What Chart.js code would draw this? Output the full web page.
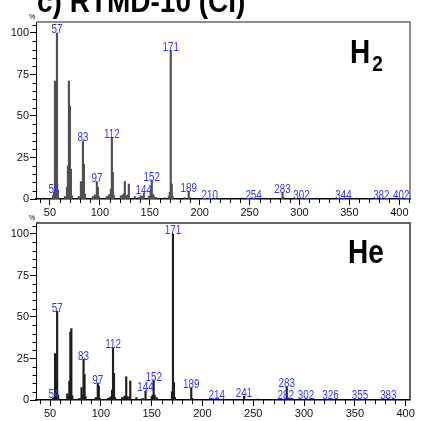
<!DOCTYPE html>
<html><head><meta charset="utf-8">
<script src="https://cdn.jsdelivr.net/npm/chart.js@4/dist/chart.umd.min.js"></script>
<style>
html,body{margin:0;padding:0;background:#fff;width:422px;height:421px;overflow:hidden}
canvas{position:absolute;left:0}
#c1{top:0}
#c2{top:210px}
</style></head><body>
<canvas id="c1" width="422" height="218"></canvas>
<canvas id="c2" width="422" height="211"></canvas>
<script>
// ---- data (m/z, relative intensity %) ----
const titleText = "c) RTMD-10 (CI)";
const h2Mz  = [53,54,55,56,57,58,65,67,68,69,70,71,72,79,81,82,83,84,85,93,95,96,97,98,99,107,109,110,111,112,113,114,121,123,124,125,126,128,129,135,139,141,143,144,149,150,151,152,153,154,156,165,169,170,171,172,173,185,189,190,210,254,283,284,302,344,382,402];
const h2Int = [2,4,71,27,100,5,1.5,7,20,71,56,18,2,1.5,10.5,4,35,21,3,1.5,2.5,2,10.5,7,1.5,1.5,2.5,2.5,6,37,16,2,2,2.5,3,10.6,2,2.5,9,1.5,1,2,1.5,3.6,1.5,2,5,11,3,2,1,0.8,1.5,4,89.5,9,1.5,0.8,4.8,1,0.5,0.5,3.7,1,0.6,0.5,0.5,0.5];
const h2Labels = [54,57,83,97,112,144,152,171,189,210,254,283,302,344,382,402];

const heMz  = [53,54,55,56,57,58,67,68,69,70,71,72,79,81,82,83,84,85,95,96,97,98,99,107,109,110,111,112,113,114,121,123,124,125,126,128,129,135,141,144,150,151,152,153,155,170,171,172,173,189,190,214,241,255,282,283,284,302,326,355,383];
const heInt = [1,1.5,28,11.5,53.5,3,3.8,2,11.3,41,43,2.5,1,7.5,2.5,24.5,15.3,2,1.5,1,10.2,8.5,1,1,1.5,2,6,31.5,16,1.5,1.5,2,2.5,14,2,2,11.5,1.5,1,5.5,2,3,12,3,1.5,5,100,10.5,1.5,7.5,1,1.2,2.2,0.6,1,8,1.2,1.2,1,1,1];
const heLabels = [54,57,83,97,112,144,152,171,189,214,241,282,283,302,326,355,383];

const yTickStep = 25, xTickStep = 50;

const SANS = '"Liberation Sans", Arial, sans-serif';
Chart.defaults.font.family = SANS;
Chart.defaults.font.size = 11;
Chart.defaults.color = '#000';

const deco = {
  id: 'deco',
  afterDraw(chart, args, o) {
    const {ctx, chartArea: a, scales: {x, y}} = chart;
    const ds = chart.data.datasets[0].data;
    ctx.save();
    // frame top/right
    ctx.strokeStyle = o.boxColor; ctx.lineWidth = 1.5;
    ctx.beginPath(); ctx.moveTo(a.left, a.top); ctx.lineTo(a.right, a.top); ctx.lineTo(a.right, a.bottom); ctx.stroke();
    // minor ticks
    ctx.strokeStyle = '#000'; ctx.lineWidth = 1;
    ctx.beginPath();
    for (let v = 40; v <= x.max; v += 10) {
      if (v % xTickStep === 0) continue;
      const px = Math.round(x.getPixelForValue(v)) + 0.5;
      ctx.moveTo(px, a.bottom); ctx.lineTo(px, a.bottom + 4);
    }
    for (let v = 5; v <= y.max; v += 5) {
      if (v % yTickStep === 0) continue;
      const py = Math.round(y.getPixelForValue(v)) + 0.5;
      ctx.moveTo(a.left - 3.5, py); ctx.lineTo(a.left, py);
    }
    ctx.stroke();
    // peak labels (narrowed)
    ctx.fillStyle = '#3333ff';
    ctx.font = '12px ' + SANS;
    ctx.textAlign = 'center'; ctx.textBaseline = 'alphabetic';
    for (const m of o.labels) {
      const p = ds.find(d => d.x === m);
      if (!p) continue;
      ctx.save();
      ctx.translate(x.getPixelForValue(m), y.getPixelForValue(p.y) + 0.5);
      ctx.scale(0.82, 1);
      ctx.fillText(String(m), 0, 0);
      ctx.restore();
    }
    // % unit
    ctx.fillStyle = '#000';
    ctx.font = '7px ' + SANS;
    ctx.fillText('%', a.left - 4, a.top - 3);
    // gas label
    ctx.textAlign = 'left';
    ctx.save();
    ctx.translate(o.gasX, o.gasY);
    ctx.scale(1, 1.18);
    ctx.font = 'bold 28px ' + SANS;
    ctx.fillText(o.gas, 0, 0);
    if (o.sub) {
      const w = ctx.measureText(o.gas).width;
      ctx.font = 'bold 19px ' + SANS;
      ctx.fillText(o.sub, w + 2, 7);
    }
    ctx.restore();
    if (o.title) {
      ctx.save();
      ctx.translate(37, 12);
      ctx.scale(1, 1.1);
      ctx.font = 'bold 28px ' + SANS;
      ctx.fillText(o.title, 0, 0);
      ctx.restore();
    }
    ctx.restore();
  }
};

function makeChart(id, mz, ints, labels, cfg) {
  const data = mz.map((m, i) => ({x: m, y: ints[i]}));
  return new Chart(document.getElementById(id), {
    type: 'bar',
    data: {datasets: [{data, backgroundColor: cfg.barColor, borderWidth: 0, barThickness: 1.5, grouped: false}]},
    options: {
      responsive: false, animation: false, devicePixelRatio: 1,
      layout: {padding: {top: cfg.padTop, right: 12, left: 0, bottom: 0}},
      plugins: {legend: {display: false}, tooltip: {enabled: false},
        deco: {labels, boxColor: cfg.boxColor, gas: cfg.gas, sub: cfg.sub, gasX: cfg.gasX, gasY: cfg.gasY, title: cfg.title}},
      scales: {
        x: {type: 'linear', min: cfg.xmin, max: cfg.xmax, offset: false,
            afterFit: s => { s.height = cfg.xh; },
            ticks: {stepSize: xTickStep, includeBounds: false, padding: 1, font: {size: 11}, color: '#111', maxRotation: 0},
            grid: {offset: false, drawOnChartArea: false, drawTicks: true, tickLength: 6, tickColor: '#000', tickWidth: 1},
            border: {display: true, color: '#000', width: 1.5}},
        y: {type: 'linear', min: 0, max: 106.6,
            afterFit: s => { s.width = 36; },
            ticks: {stepSize: yTickStep, includeBounds: false, padding: 1, font: {size: 11}, color: '#111'},
            grid: {drawOnChartArea: false, drawTicks: true, tickLength: 6, tickColor: '#000', tickWidth: 1},
            border: {display: true, color: '#000', width: 1}}
      }
    },
    plugins: [deco]
  });
}

makeChart('c1', h2Mz, h2Int, h2Labels, {barColor: '#505050', boxColor: '#6a6a6a', padTop: 22, xh: 19, xmin: 36, xmax: 410.7,
  gas: 'H', sub: '2', gasX: 350, gasY: 62.5, title: titleText});
makeChart('c2', heMz, heInt, heLabels, {barColor: '#1e1e1e', boxColor: '#333', padTop: 13, xh: 21, xmin: 36.2, xmax: 404.3,
  gas: 'He', sub: '', gasX: 348, gasY: 52.5, title: ''});
</script>
</body></html>
